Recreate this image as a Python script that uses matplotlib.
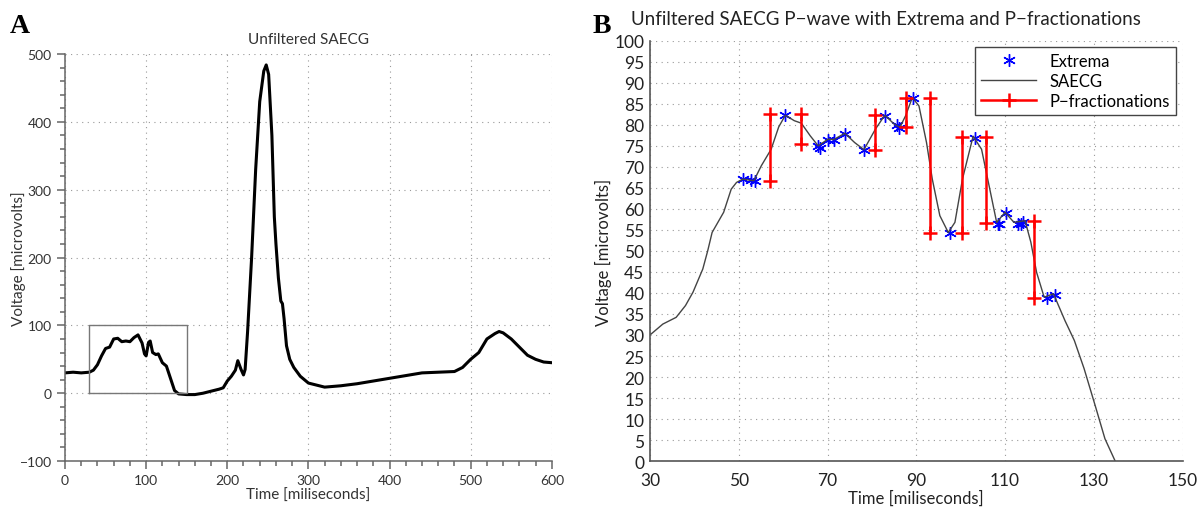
import numpy as np
import matplotlib.pyplot as plt
from matplotlib.ticker import MultipleLocator

plt.rcParams['font.family'] = ['Lato', 'DejaVu Sans']

# ---- panel A : full unfiltered SAECG ----
a_time = [0, 10, 20, 30, 35, 40, 45, 50, 55, 60, 65, 70, 75, 80, 85, 90, 95, 98,
          100, 103, 105, 108, 112, 115, 120, 125, 130, 135, 140, 150, 160, 170,
          180, 190, 195, 200, 205, 210, 213, 217, 220, 222, 225, 230, 235, 240,
          245, 248, 251, 255, 258, 260, 263, 266, 268, 270, 273, 277, 282, 290,
          300, 310, 320, 340, 360, 380, 400, 420, 440, 460, 480, 490, 500, 510,
          520, 530, 535, 540, 550, 560, 570, 580, 590, 600]
a_volt = [30, 31, 30, 31, 34, 42, 55, 66, 68, 80, 81, 76, 77, 76, 82, 86, 74, 58,
          55, 75, 77, 60, 57, 58, 45, 40, 22, 4, -1, -2, -2, 0,
          3, 6, 8, 18, 25, 34, 48, 35, 27, 35, 90, 200, 330, 430,
          475, 484, 470, 380, 260, 220, 170, 136, 132, 110, 70, 50, 38, 25,
          15, 12, 9, 11, 14, 18, 22, 26, 30, 31, 32, 38, 50, 60,
          80, 88, 91, 89, 80, 68, 56, 50, 46, 45]

# zoom box on the P-wave
box_x = [30, 150, 150, 30, 30]
box_y = [0, 0, 100, 100, 0]

# ---- panel B : P-wave detail ----
b_time = [30, 32.9, 35.9, 38, 39.7, 41.9, 43, 44, 46.6, 48.3, 49.5, 50.9, 53.4,
          55.1, 57.3, 59, 60.5, 62.5, 64.1, 66.1, 67.9, 70.1, 71.4, 73.9, 76.1,
          78.2, 80.8, 82.9, 85, 86.3, 87.6, 89.1, 90.6, 92.3, 93.6, 95.3, 97.2,
          98.7, 100.4, 102.8, 104.7, 106.4, 108.1, 110, 112, 113.2, 114.5, 115.8,
          117.1, 118.8, 120.9, 123.5, 125.6, 127.8, 130.3, 132.5, 134.8, 136]
b_volt = [30, 32.6, 34.2, 37, 40.2, 45.7, 50, 54.4, 59.2, 64.7, 66.3, 67.1, 66.7,
          70.3, 74.2, 79.5, 82.3, 81, 80.4, 77.4, 75, 76.6, 76.5, 78, 75.8,
          74.1, 79, 82.3, 80.2, 79.4, 82.2, 86.5, 84.5, 75.8, 67.1, 58.4, 54.4,
          56.8, 67.1, 77.3, 74.2, 65.5, 56.8, 59.2, 56.8, 57, 57.2, 52.1,
          44.9, 39, 39.8, 33.4, 28.7, 22, 13.2, 5.3, 0, -2]

ext_time = [51.0, 52.8, 53.6, 60.5, 67.8, 68.2, 70.1, 71.5, 74.0, 78.2, 83.0,
            85.6, 86.1, 89.2, 97.5, 103.2, 108.3, 108.6, 110.3, 113.0, 113.5,
            114.0, 119.5, 121.3]
ext_volt = [67.0, 66.8, 66.6, 82.3, 75.0, 74.6, 76.5, 76.4, 77.8, 74.0, 82.0,
            80.0, 79.2, 86.3, 54.2, 76.9, 56.3, 56.5, 59.0, 56.5, 56.3, 56.8,
            38.8, 39.5]

frac_time = [57.1, 64.0, 80.7, 87.6, 93.1, 100.3, 105.7, 116.5]
frac_low = [66.6, 75.4, 74.0, 79.4, 54.2, 54.2, 56.6, 38.7]
frac_high = [82.5, 82.5, 82.3, 86.4, 86.4, 77.2, 77.2, 57.2]

fig = plt.figure(figsize=(11.97, 5.10), dpi=100)

# panel A
ax1 = fig.add_axes([0.0543, 0.094, 0.4067, 0.798])
ax1.plot(a_time, a_volt, color='black', lw=2.2)
ax1.plot(box_x, box_y, color='#777777', lw=1)
ax1.set_xlim(0, 600)
ax1.set_ylim(-100, 500)
ax1.xaxis.set_major_locator(MultipleLocator(100))
ax1.xaxis.set_minor_locator(MultipleLocator(20))
ax1.yaxis.set_major_locator(MultipleLocator(100))
ax1.yaxis.set_minor_locator(MultipleLocator(20))
ax1.grid(True, which='major', linestyle=(0, (1, 4)), color='#999999', lw=0.8)
for s in ['top', 'right']:
    ax1.spines[s].set_visible(False)
for s in ['left', 'bottom']:
    ax1.spines[s].set_color('#666666')
    ax1.spines[s].set_linewidth(1.1)
ax1.tick_params(which='major', direction='out', length=6, width=1.1,
                color='#666666', labelsize=10, labelcolor='#333333')
ax1.tick_params(which='minor', direction='out', length=3.5, width=1.1,
                color='#666666')
ax1.set_title('Unfiltered SAECG', fontsize=11, pad=8, color='#333333')
ax1.set_xlabel('Time [miliseconds]', fontsize=11, labelpad=1, color='#333333')
ax1.set_ylabel('Voltage [microvolts]', fontsize=11, color='#333333')
ax1.yaxis.set_label_coords(-0.08, 0.5)

# panel B
ax2 = fig.add_axes([0.543, 0.094, 0.445, 0.824])
ax2.plot(ext_time, ext_volt, linestyle='none', marker=(6, 2, 0), color='blue',
         ms=9, mew=1.0, label='Extrema')
ax2.plot(b_time, b_volt, color='#444444', lw=1, label='SAECG')
for i in range(len(frac_time)):
    ax2.plot([frac_time[i], frac_time[i]], [frac_low[i], frac_high[i]],
             color='red', lw=1.8, marker='+', ms=10, mew=1.8,
             label='P\u2212fractionations' if i == 0 else None)
ax2.set_xlim(30, 150)
ax2.set_ylim(0, 100)
ax2.set_xticks(np.arange(30, 151, 20))
ax2.set_yticks(np.arange(0, 101, 5))
ax2.grid(True, linestyle=(0, (1, 4)), color='#999999', lw=0.8)
for s in ['top', 'right']:
    ax2.spines[s].set_visible(False)
for s in ['left', 'bottom']:
    ax2.spines[s].set_color('#555555')
    ax2.spines[s].set_linewidth(1.2)
ax2.tick_params(length=0, labelsize=12.5, labelcolor='#222222')
ax2.tick_params(axis='x', pad=8)
ax2.tick_params(axis='y', pad=4)
ax2.set_xlabel('Time [miliseconds]', fontsize=12, labelpad=1, color='#222222')
ax2.set_ylabel('Voltage [microvolts]', fontsize=12, labelpad=2, color='#222222')
ax2.set_title('Unfiltered SAECG P\u2212wave with Extrema and P\u2212fractionations',
              fontsize=13.5, loc='left', x=-0.035, pad=12, color='#222222')
leg = ax2.legend(loc='upper right', bbox_to_anchor=(0.987, 0.986), borderaxespad=0,
                 fontsize=12, fancybox=False, framealpha=1, edgecolor='#444444',
                 borderpad=0.35, labelspacing=0.25, handlelength=3.3,
                 handletextpad=0.8)
leg.get_frame().set_linewidth(1)

fig.text(0.008, 0.935, 'A', fontsize=20, fontweight='bold', family='Liberation Serif')
fig.text(0.495, 0.935, 'B', fontsize=20, fontweight='bold', family='Liberation Serif')

fig.savefig('out.png', dpi=100)
